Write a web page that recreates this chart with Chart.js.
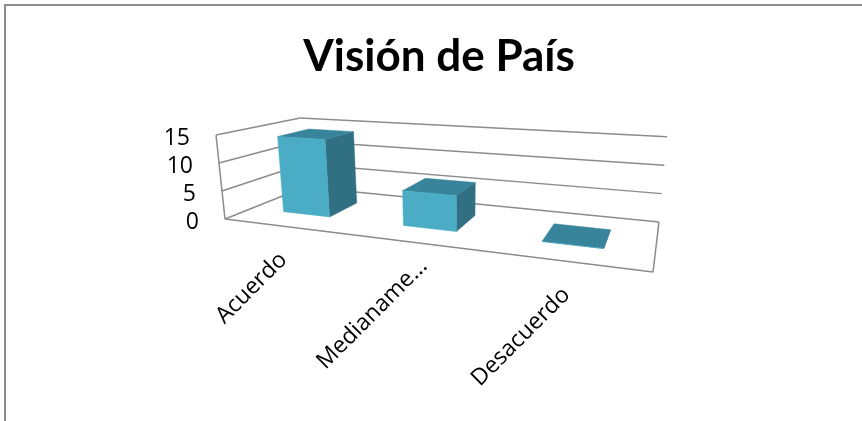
<!DOCTYPE html>
<html>
<head>
<meta charset="utf-8">
<script src="https://cdn.jsdelivr.net/npm/chart.js@4"></script>
<style>
    html, body { margin: 0; background: #fff; overflow: hidden; }
    #frame { position: absolute; left: 4px; top: 4px; width: 858px; height: 417px; border-left: 2px solid #8c8c8c; border-top: 2px solid #8c8c8c; box-sizing: border-box; }
    #chart { position: absolute; left: 0; top: 0; }
</style>
</head>
<body>
<div id="frame"></div>
<canvas id="chart" width="862" height="421"></canvas>
<script>
const categories = ["Acuerdo", "Medianame...", "Desacuerdo"];
const values = [14, 6, 0];
const valueTicks = [0, 5, 10, 15];
const chartTitle = "Visión de País";

const gridColor = "#8c8c8c";
const frontColor = "#4bacc6";
const topColor = "#38849a";
const sideColor = "#316f82";
const labelFont = "23px 'Open Sans'";

// floor of the 3D box, as homography from the unit square (s along x, d into the page)
const H = { a: 290.1, b: 144.8, c: 225, d: -4.4, e: 7.8, f: 219, g: -0.2112, h: 0.2126 };
const horizonY = 40;
const riseRate = 0.469;
const vanishX = 455;
const vanishY = 2368;
const barFront = 0.3;
const barBack = 0.7;
const barNudge = -0.005;

/** s, d and t are all 0..1: across, into the page and up */
function project(s, d, t) {
    const w = H.g * s + H.h * d + 1;
    const x = (H.a * s + H.b * d + H.c) / w;
    const y = (H.d * s + H.e * d + H.f) / w;
    const rise = riseRate * (y - horizonY) * t;
    return [x + rise * (x - vanishX) / (vanishY - y), y - rise];
}

function line(ctx, from, to) {
    ctx.beginPath();
    ctx.moveTo(from[0], from[1]);
    ctx.lineTo(to[0], to[1]);
    ctx.stroke();
}

function face(ctx, color, points) {
    ctx.fillStyle = color;
    ctx.strokeStyle = color;
    ctx.lineWidth = 0.5;
    ctx.beginPath();
    points.forEach((p, i) => i ? ctx.lineTo(p[0], p[1]) : ctx.moveTo(p[0], p[1]));
    ctx.closePath();
    ctx.fill();
    ctx.stroke();
}

const box3d = {
    id: "box3d",
    beforeDatasetsDraw(chart) {
        const { ctx, scales: { y: yScale } } = chart;
        const toT = px => (yScale.bottom - px) / (yScale.bottom - yScale.top);
        ctx.save();
        ctx.strokeStyle = gridColor;
        ctx.lineWidth = 1.5;
        for (const tick of yScale.ticks) {
            const t = toT(yScale.getPixelForValue(tick.value));
            line(ctx, project(0, 0, t), project(0, 1, t));
            line(ctx, project(0, 1, t), project(1, 1, t));
        }
        line(ctx, project(0, 0, 0), project(0, 0, 1));
        line(ctx, project(0, 0, 0), project(1, 0, 0));
        line(ctx, project(1, 0, 0), project(1, 1, 0));
        ctx.restore();
    },
    beforeDatasetDraw(chart, args) {
        const { ctx, scales: { x: xScale, y: yScale } } = chart;
        const toS = px => (px - xScale.left) / xScale.width + barNudge;
        const toT = px => (yScale.bottom - px) / (yScale.bottom - yScale.top);
        ctx.save();
        for (const bar of args.meta.data) {
            const s0 = toS(bar.x - bar.width / 2);
            const s1 = toS(bar.x + bar.width / 2);
            const t = toT(bar.y);
            face(ctx, sideColor, [project(s1, barFront, 0), project(s1, barBack, 0), project(s1, barBack, t), project(s1, barFront, t)]);
            face(ctx, topColor, [project(s0, barFront, t), project(s1, barFront, t), project(s1, barBack, t), project(s0, barBack, t)]);
            face(ctx, frontColor, [project(s0, barFront, 0), project(s1, barFront, 0), project(s1, barFront, t), project(s0, barFront, t)]);
        }
        ctx.restore();
        return false;
    },
    afterDatasetsDraw(chart) {
        const { ctx, scales: { x: xScale, y: yScale } } = chart;
        ctx.save();
        ctx.font = labelFont;
        ctx.fillStyle = "#000";
        ctx.textAlign = "right";
        ctx.textBaseline = "middle";
        // value labels follow the slanted front edge of the wall
        for (const tick of yScale.ticks) {
            const t = (yScale.bottom - yScale.getPixelForValue(tick.value)) / (yScale.bottom - yScale.top);
            const p = project(0, 0, t);
            ctx.fillText(tick.label, p[0] - 26, p[1] + 3);
        }
        xScale.getLabels().forEach((label, i) => {
            const s = (xScale.getPixelForTick(i) - xScale.left) / xScale.width;
            const p = project(s, 0, 0);
            ctx.save();
            ctx.translate(p[0], p[1] + 30);
            ctx.rotate(-Math.PI / 4);
            // the cut off label sits further along its own line
            ctx.fillText(label, label.endsWith("...") ? 14 : 0, 0);
            ctx.restore();
        });
        ctx.restore();
    }
};

new Chart(document.getElementById("chart"), {
    type: "bar",
    data: {
        labels: categories,
        datasets: [{ data: values, backgroundColor: frontColor, barPercentage: 0.4, categoryPercentage: 1 }]
    },
    options: {
        responsive: false,
        animation: false,
        layout: { padding: { left: 165, right: 209, top: 0, bottom: 201 } },
        plugins: {
            legend: { display: false },
            tooltip: { enabled: false },
            title: {
                display: true,
                text: chartTitle,
                fullSize: false,
                color: "#000",
                font: { family: "Lato", size: 44, weight: "bold" },
                padding: { top: 30, bottom: 54 }
            }
        },
        scales: {
            x: { display: false },
            y: {
                min: 0,
                max: 15,
                afterBuildTicks: scale => { scale.ticks = valueTicks.map(value => ({ value })); },
                afterFit: scale => { scale.width = 60; },
                border: { display: false },
                grid: { display: false, drawTicks: false },
                ticks: { display: false }
            }
        }
    },
    plugins: [box3d]
});
</script>
</body>
</html>
